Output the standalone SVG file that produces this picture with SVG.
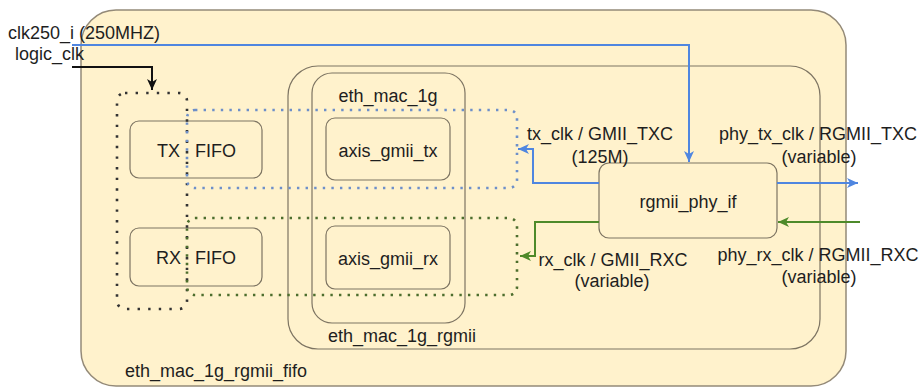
<svg xmlns="http://www.w3.org/2000/svg" width="922" height="387" viewBox="0 0 922 387">
<style>
text{font-family:"Liberation Sans",Arial,Helvetica,sans-serif;font-size:18px;fill:#1e1e1e}
.box{fill:#fff2cc;stroke:#7d7462;stroke-width:1.2}
.outer{fill:#fff2cc;stroke:#948a78;stroke-width:1.5}
.dotk{fill:none;stroke:#333;stroke-width:2.6;stroke-dasharray:2.4 8.2}
.dotb{fill:none;stroke:#6d8fc9;stroke-width:2.6;stroke-dasharray:2.4 6.2}
.dotg{fill:none;stroke:#4d6e2d;stroke-width:2.6;stroke-dasharray:2.4 6.2}
.blue{fill:none;stroke:#4f86e0;stroke-width:2}
.green{fill:none;stroke:#4e8a2a;stroke-width:2}
.black{fill:none;stroke:#111;stroke-width:2}
</style>
<defs>
<marker id="ab" markerUnits="userSpaceOnUse" markerWidth="12" markerHeight="10" refX="11" refY="5" orient="auto"><path d="M0,0 L11,5 L0,10 L3,5 z" fill="#4f86e0"/></marker>
<marker id="ag" markerUnits="userSpaceOnUse" markerWidth="12" markerHeight="10" refX="11" refY="5" orient="auto"><path d="M0,0 L11,5 L0,10 L3,5 z" fill="#4e8a2a"/></marker>
<marker id="ak" markerUnits="userSpaceOnUse" markerWidth="12" markerHeight="10" refX="11" refY="5" orient="auto"><path d="M0,0 L11,5 L0,10 L3,5 z" fill="#111"/></marker>
</defs>
<g id="eth_mac_1g_rgmii_fifo">
<rect class="outer" x="81" y="10" width="765" height="376" rx="35"/>
<text x="125" y="377">eth_mac_1g_rgmii_fifo</text>
</g>
<g id="eth_mac_1g_rgmii">
<rect class="box" x="288" y="66" width="532" height="283" rx="30"/>
<text x="402" y="342" text-anchor="middle">eth_mac_1g_rgmii</text>
</g>
<g id="eth_mac_1g">
<rect class="box" x="312" y="73" width="153" height="250" rx="20"/>
<text x="388" y="102" text-anchor="middle">eth_mac_1g</text>
</g>
<g id="tx_fifo">
<rect class="box" x="130" y="121" width="132" height="57" rx="9"/>
<text y="157"><tspan x="157">TX</tspan><tspan x="195">FIFO</tspan></text>
</g>
<g id="rx_fifo">
<rect class="box" x="130" y="228" width="132" height="58" rx="9"/>
<text y="264"><tspan x="156">RX</tspan><tspan x="195">FIFO</tspan></text>
</g>
<g id="axis_gmii_tx">
<rect class="box" x="326" y="118" width="124" height="62" rx="9"/>
<text x="388" y="157" text-anchor="middle">axis_gmii_tx</text>
</g>
<g id="axis_gmii_rx">
<rect class="box" x="326" y="226" width="124" height="63" rx="9"/>
<text x="388" y="265" text-anchor="middle">axis_gmii_rx</text>
</g>
<g id="rgmii_phy_if">
<rect class="box" x="599" y="163" width="178" height="75" rx="10"/>
<text x="688" y="208" text-anchor="middle">rgmii_phy_if</text>
</g>
<g id="clock_domains">
<rect class="dotk" x="117" y="93" width="70" height="216" rx="8"/>
<rect class="dotb" x="187" y="110" width="330" height="78" rx="8"/>
<rect class="dotg" x="187" y="218" width="330" height="77" rx="8"/>
</g>
<g id="connectors">
<polyline class="blue" points="72,45 689,45 689,162" marker-end="url(#ab)"/>
<polyline class="black" points="72,67 152,67 152,90" marker-end="url(#ak)"/>
<polyline class="blue" points="599,183 533,183 533,149 518,149" marker-end="url(#ab)"/>
<polyline class="blue" points="777,183 858,183" marker-end="url(#ab)"/>
<polyline class="green" points="860,222 778,222" marker-end="url(#ag)"/>
<polyline class="green" points="599,222 535,222 535,256 520,256" marker-end="url(#ag)"/>
</g>
<g id="labels">
<text x="8" y="39">clk250_i (250MHZ)</text>
<text x="15" y="60">logic_clk</text>
<text x="600" y="140" text-anchor="middle">tx_clk / GMII_TXC</text>
<text x="600" y="163" text-anchor="middle">(125M)</text>
<text x="818" y="140" text-anchor="middle">phy_tx_clk / RGMII_TXC</text>
<text x="819" y="163" text-anchor="middle">(variable)</text>
<text x="613" y="266" text-anchor="middle">rx_clk / GMII_RXC</text>
<text x="612" y="287" text-anchor="middle">(variable)</text>
<text x="818" y="261" text-anchor="middle">phy_rx_clk / RGMII_RXC</text>
<text x="819" y="283" text-anchor="middle">(variable)</text>
</g>
</svg>
